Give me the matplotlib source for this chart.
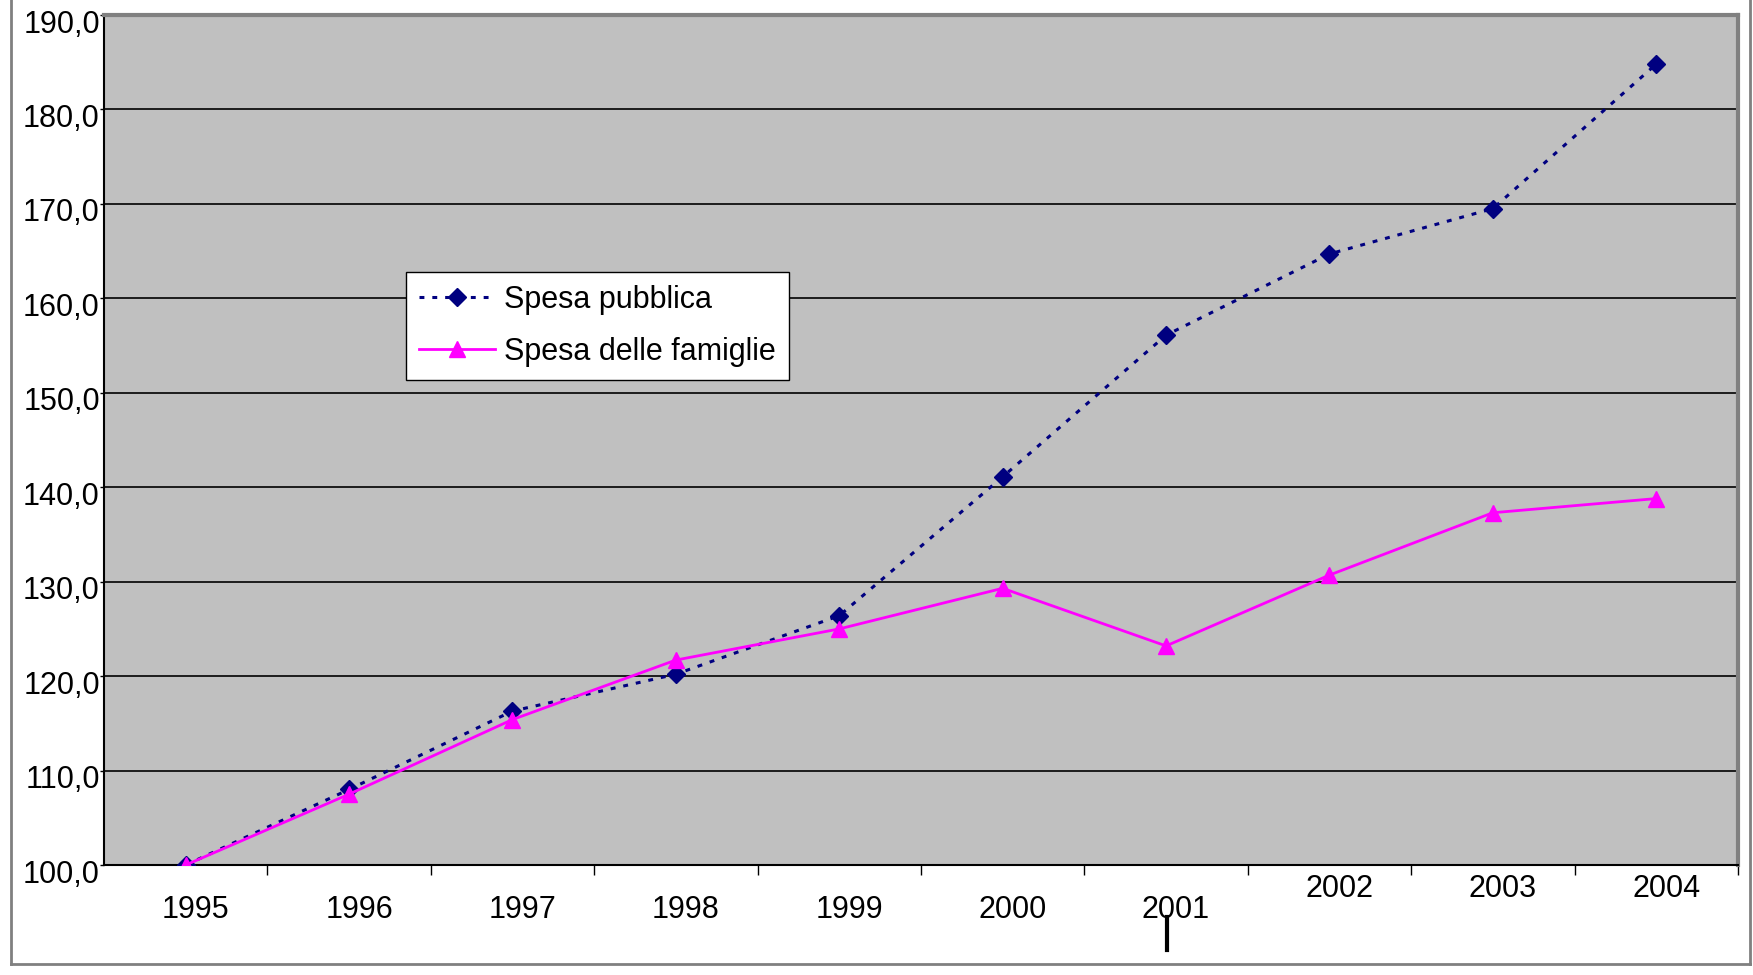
import matplotlib
matplotlib.use('Agg')
import matplotlib.pyplot as plt
from matplotlib.lines import Line2D
from matplotlib.ticker import FuncFormatter, MultipleLocator
import matplotlib.transforms as mtransforms

plt.rcParams['font.family'] = ['Liberation Sans', 'DejaVu Sans']

years = ['1995', '1996', '1997', '1998', '1999', '2000', '2001', '2002', '2003', '2004']
spesa_pubblica = [100.0, 108.0, 116.3, 120.2, 126.4, 141.1, 156.1, 164.7, 169.5, 184.8]
spesa_famiglie = [100.0, 107.5, 115.4, 121.7, 125.0, 129.3, 123.2, 130.7, 137.3, 138.8]

fig = plt.figure(figsize=(17.53, 9.75), dpi=100)
ax = fig.add_axes([0.0593, 0.1128, 0.9321, 0.8718])
ax.set_facecolor('#c0c0c0')

x = list(range(len(years)))
ax.plot(x, spesa_pubblica, color='#000080', lw=2.2, ls=(0, (1.6, 2.6)),
        marker='D', ms=9, mfc='#000080', mec='#000080', label='Spesa pubblica', zorder=3)
ax.plot(x, spesa_famiglie, color='#ff00ff', lw=2.0, ls='-',
        marker='^', ms=11, mfc='#ff00ff', mec='#ff00ff', label='Spesa delle famiglie', zorder=3)

ax.set_xlim(-0.5, len(years) - 0.5)
ax.set_ylim(100, 190)
ax.yaxis.set_major_locator(MultipleLocator(10))
ax.yaxis.set_major_formatter(FuncFormatter(lambda v, p: f'{v:.1f}'.replace('.', ',')))
ax.grid(axis='y', color='black', lw=1.2)
ax.set_axisbelow(True)

# ticks sit on the category boundaries, labels are placed by hand
ax.set_xticks([i + 0.5 for i in x])
ax.set_xticklabels([])
ax.tick_params(axis='x', length=7, width=1, color='black', direction='out')
ax.tick_params(axis='y', length=3, width=1, pad=0, labelsize=22, direction='out')

# nudge y labels slightly below their gridlines
shift = mtransforms.ScaledTranslation(0, -6 / 100, fig.dpi_scale_trans)
for lab in ax.get_yticklabels():
    lab.set_transform(lab.get_transform() + shift)

for i, yr in enumerate(years):
    dy = -45 if i < 7 else -24
    ax.annotate(yr, xy=(i, 0), xycoords=('data', 'axes fraction'),
                xytext=(10, dy), textcoords='offset pixels',
                ha='center', va='center', fontsize=22)

for side in ['left', 'bottom']:
    ax.spines[side].set_color('black')
    ax.spines[side].set_linewidth(1.5)
for side in ['top', 'right']:
    ax.spines[side].set_color('#808080')
    ax.spines[side].set_linewidth(3)

leg = ax.legend(loc='upper left', bbox_to_anchor=(0.1848, 0.6976), borderaxespad=0,
                fontsize=22, frameon=True, fancybox=False, facecolor='white',
                edgecolor='black', framealpha=1, handlelength=2.5, handletextpad=0.3,
                labelspacing=0.72, borderpad=0.42)
leg.get_frame().set_linewidth(1)

# outer chart frame
frame = dict(color='#808080', lw=2, transform=fig.transFigure)
fig.add_artist(Line2D([0.0063, 0.0063], [0.0113, 1.0], **frame))
fig.add_artist(Line2D([0.0063, 0.9983], [0.0113, 0.0113], **frame))
fig.add_artist(Line2D([0.9983, 0.9983], [0.0113, 1.0], **frame))

# small black mark under 2001
fig.add_artist(Line2D([0.6657, 0.6657], [0.0256, 0.0595], color='black', lw=3,
                      transform=fig.transFigure))

fig.savefig('out.png', dpi=100, facecolor='white')
